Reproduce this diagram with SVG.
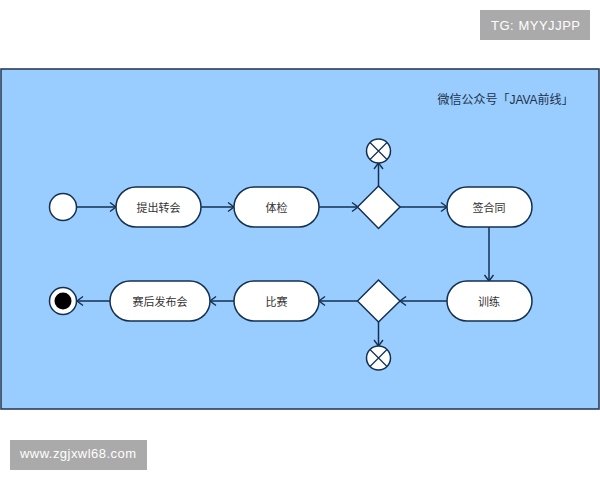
<svg xmlns="http://www.w3.org/2000/svg" width="600" height="480" viewBox="0 0 600 480">
<defs>
<marker id="arr" markerUnits="userSpaceOnUse" markerWidth="12" markerHeight="12" refX="9" refY="6" orient="auto"><path d="M3 1.500 L9 6 L3 10.500" fill="none" stroke="#14304f" stroke-width="1.400"/></marker>
</defs>
<style>
text{font-family:"Liberation Sans","Noto Sans CJK SC",sans-serif}
.n{fill:#fff;stroke:#14304f;stroke-width:1.500}
.c{fill:none;stroke:#14304f;stroke-width:1.500;marker-end:url(#arr)}
.x{fill:none;stroke:#14304f;stroke-width:1.200}
.t{font-size:11px;fill:#333;text-anchor:middle}
.w{fill:#aaa}
.wt{fill:#fff;font-size:13px;font-family:"Liberation Sans",sans-serif}
</style>
<rect width="600" height="480" fill="#fff"/>
<g id="tg"><rect class="w" x="480" y="10" width="110" height="30"/><text class="wt" x="491" y="30" textLength="89" lengthAdjust="spacing">TG: MYYJJPP</text></g>
<g id="site"><rect class="w" x="10" y="440" width="137" height="30"/><text class="wt" x="20" y="458" textLength="116" lengthAdjust="spacing">www.zgjxwl68.com</text></g>
<rect id="canvas" x="1" y="69" width="598" height="340" fill="#99ccff" stroke="#2c3e58" stroke-width="1.600"/>
<text id="title" x="505.500" y="104" font-size="12" fill="#1f3248" text-anchor="middle">微信公众号「JAVA前线」</text>
<g id="connectors">
<path class="c" d="M77 207H116"/>
<path class="c" d="M201 207H234"/>
<path class="c" d="M319 207H358"/>
<path class="c" d="M378.500 186V163"/>
<path class="c" d="M400 207H447"/>
<path class="c" d="M489 227V281"/>
<path class="c" d="M447 301H400"/>
<path class="c" d="M357 301H319"/>
<path class="c" d="M378.500 322V346"/>
<path class="c" d="M234 301H210"/>
<path class="c" d="M110 301H77"/>
</g>
<g id="start"><circle class="n" cx="63" cy="207" r="13.500"/></g>
<g id="n1"><rect class="n" x="116" y="187" width="85" height="40" rx="20"/><text class="t" x="158.500" y="212">提出转会</text></g>
<g id="n2"><rect class="n" x="234" y="187" width="85" height="40" rx="20"/><text class="t" x="276.500" y="212">体检</text></g>
<g id="d1"><polygon class="n" points="378.500,186 400,207 378.500,228.500 357.500,207"/></g>
<g id="x1"><circle class="n" cx="378.500" cy="151" r="12"/><path class="x" d="M370 142.500L387 159.500M387 142.500L370 159.500"/></g>
<g id="n3"><rect class="n" x="447" y="187" width="85" height="40" rx="20"/><text class="t" x="489" y="212">签合同</text></g>
<g id="n4"><rect class="n" x="447" y="281" width="85" height="40" rx="20"/><text class="t" x="489" y="306">训练</text></g>
<g id="d2"><polygon class="n" points="378.500,280 400,301 378.500,322 357.500,301"/></g>
<g id="x2"><circle class="n" cx="378.500" cy="358" r="12"/><path class="x" d="M370 349.500L387 366.500M387 349.500L370 366.500"/></g>
<g id="n5"><rect class="n" x="234" y="281" width="85" height="40" rx="20"/><text class="t" x="276.500" y="306">比赛</text></g>
<g id="n6"><rect class="n" x="110" y="281" width="100" height="40" rx="20"/><text class="t" x="160" y="306">赛后发布会</text></g>
<g id="end"><circle class="n" cx="63" cy="301" r="13.500"/><circle cx="63" cy="301" r="8.500" fill="#000"/></g>
</svg>
